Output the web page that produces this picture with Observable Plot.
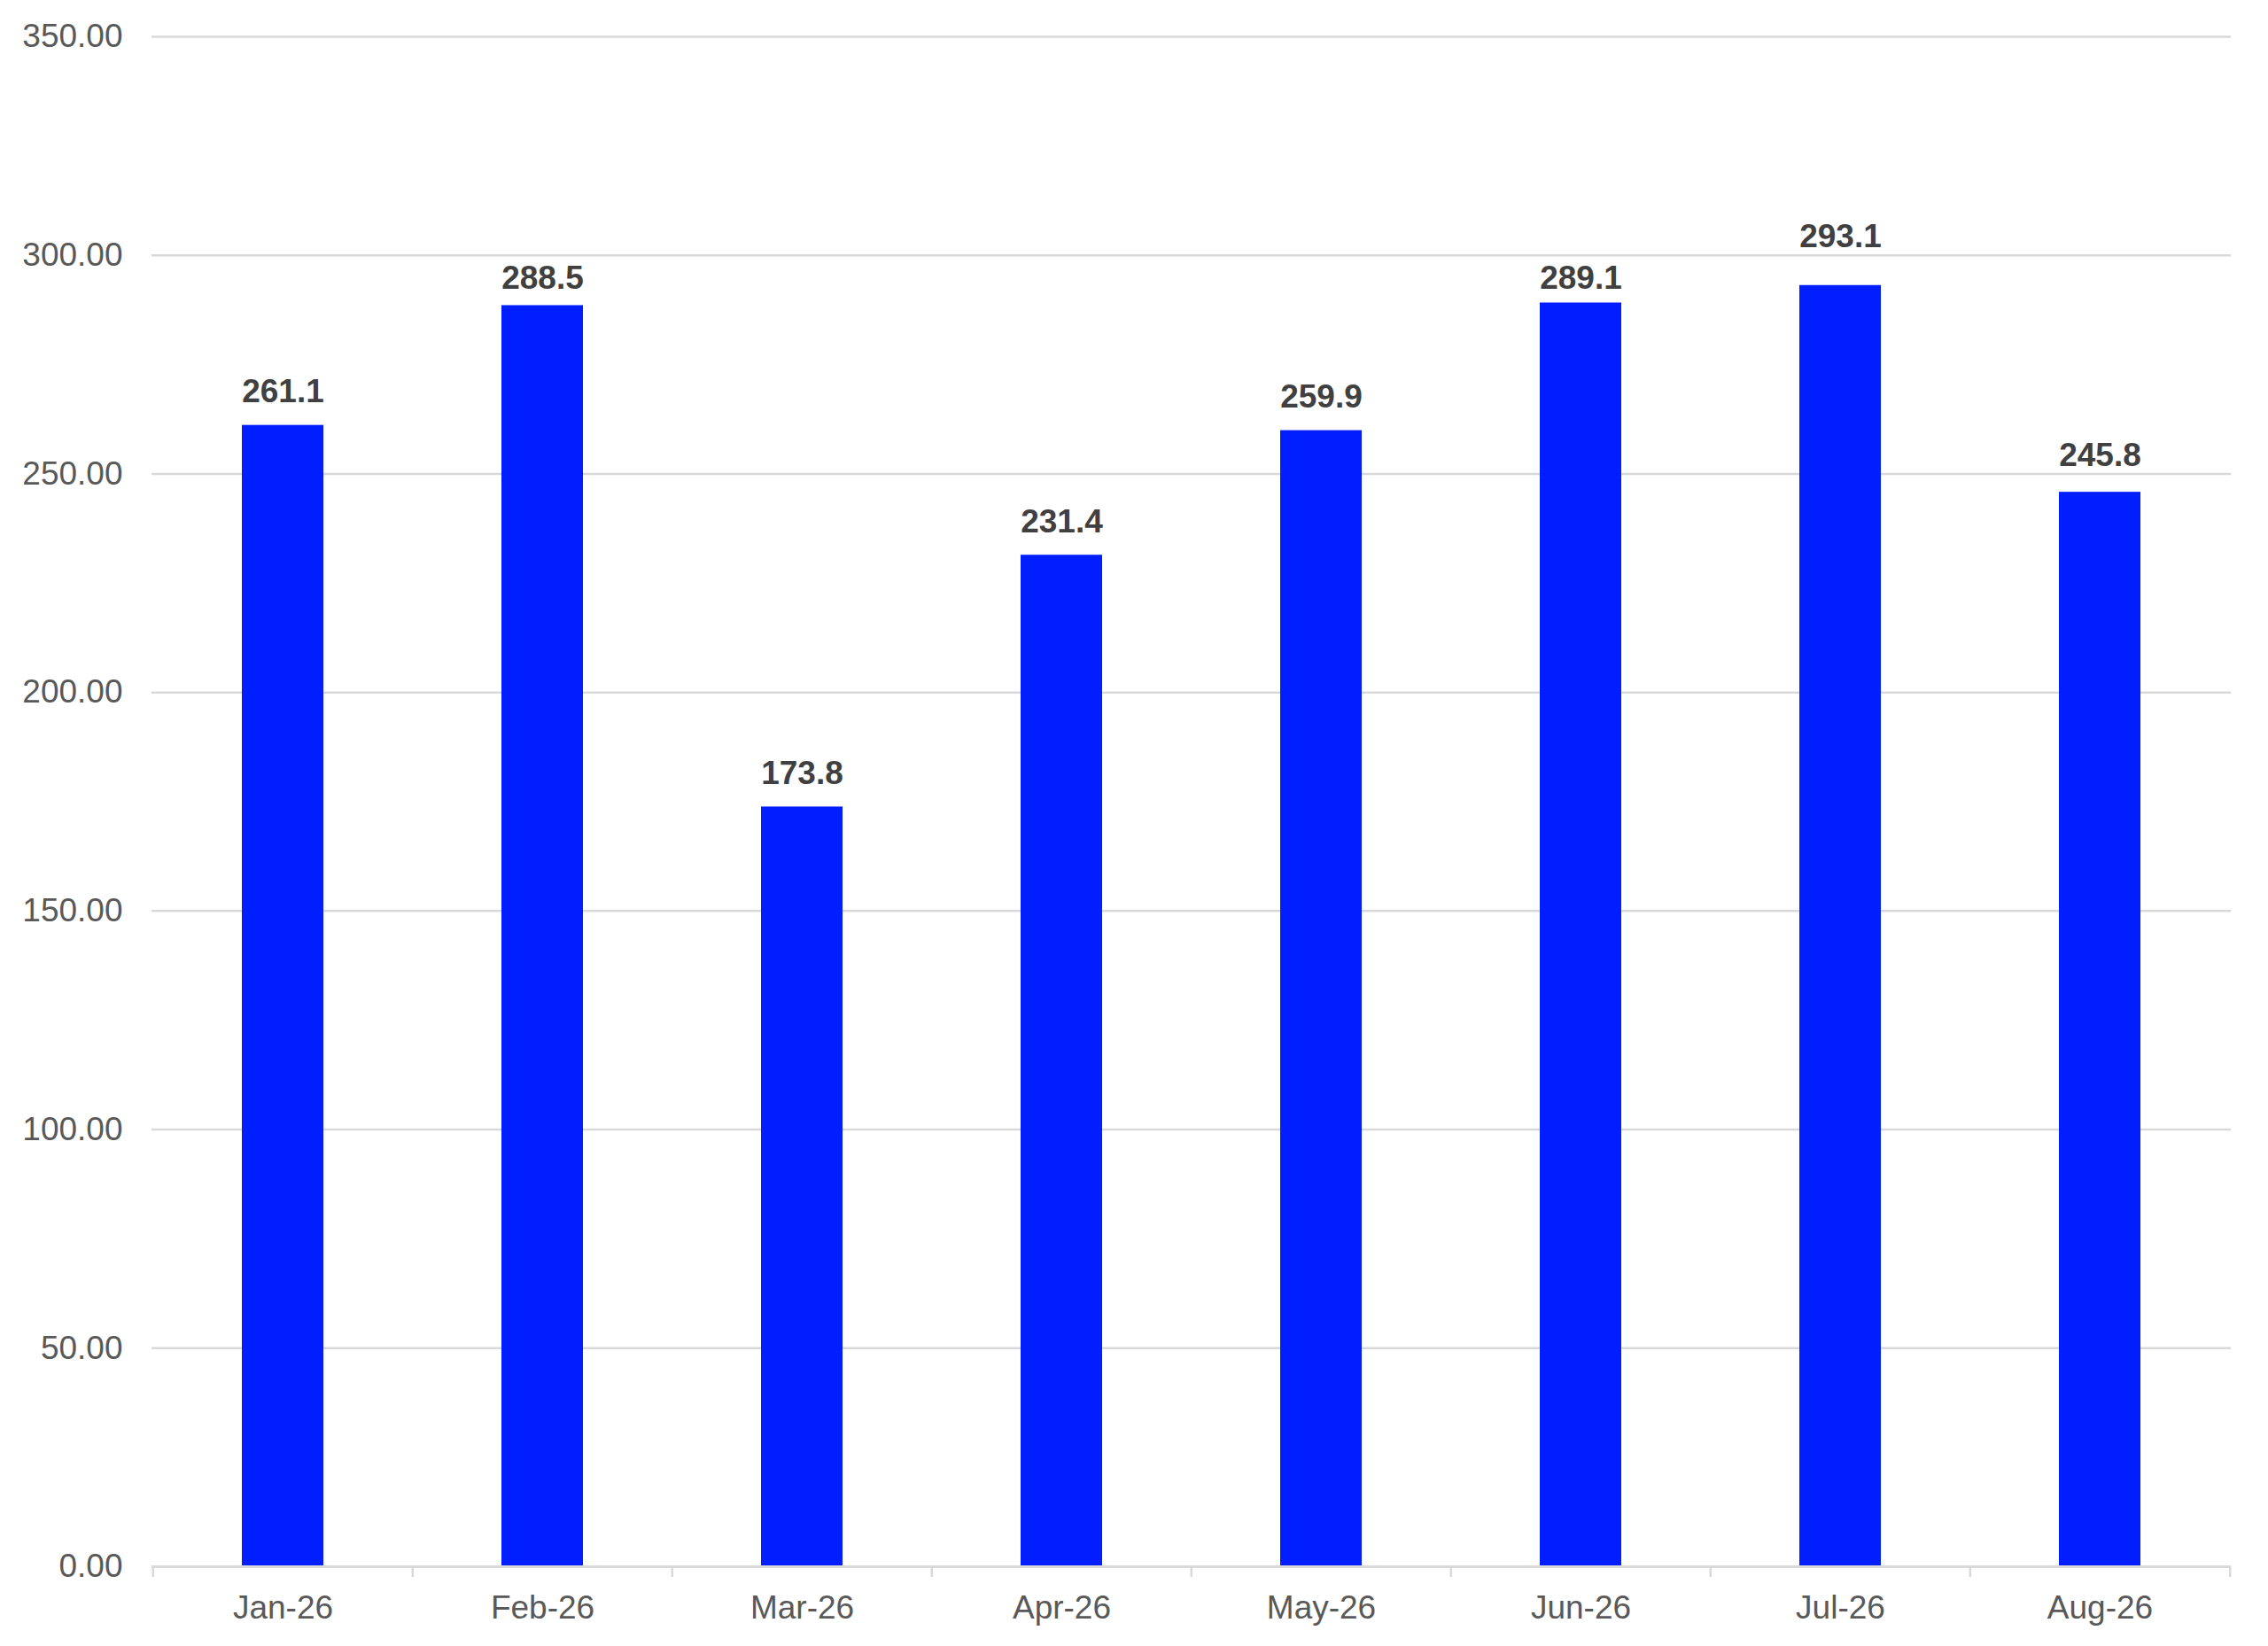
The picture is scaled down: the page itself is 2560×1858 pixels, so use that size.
<!DOCTYPE html>
<html>
<head>
<meta charset="utf-8">
<script src="https://cdn.jsdelivr.net/npm/d3@7"></script>
<script src="https://cdn.jsdelivr.net/npm/@observablehq/plot@0.6"></script>
<style>
  html, body { margin: 0; padding: 0; background: #ffffff; overflow: hidden; }
  #chart svg { display: block; }
</style>
</head>
<body>
<div id="chart"></div>
<script>
const months = ["Jan-26", "Feb-26", "Mar-26", "Apr-26", "May-26", "Jun-26", "Jul-26", "Aug-26"];
const values = [261.1, 288.5, 173.8, 231.4, 259.9, 289.1, 293.1, 245.8];
const yTicks = [0, 50, 100, 150, 200, 250, 300, 350];

const W = 2560, H = 1858;
const mL = 171, mR = 42, mT = 41, mB = 90;
const step = (W - mL - mR) / months.length;
const pxPerUnit = (H - mT - mB) / 350;

// Label placement: baseline sits a fixed gap above the bar; if the label would
// collide with a gridline, it is nudged to the nearer side of that gridline.
const GAP = 26, CAP = 26, CLEAR_ABOVE = 9, CLEAR_BELOW = 12;
function labelBaseline(v) {
  let base = v + GAP / pxPerUnit;                 // baseline in data units
  for (const g of yTicks) {
    const top = base + CAP / pxPerUnit;
    if (g <= top + CLEAR_BELOW / pxPerUnit && g >= base - CLEAR_ABOVE / pxPerUnit) {
      const up = g + CLEAR_ABOVE / pxPerUnit;     // baseline just above gridline
      const down = g - (CAP + CLEAR_BELOW) / pxPerUnit; // cap top just below gridline
      base = (Math.abs(up - base) < Math.abs(down - base) || down < v) ? up : down;
    }
  }
  return base;
}

const data = months.map((m, i) => ({month: m, value: values[i], labelY: labelBaseline(values[i])}));

const chart = Plot.plot({
  width: W,
  height: H,
  marginLeft: mL,
  marginRight: mR,
  marginTop: mT,
  marginBottom: mB,
  style: {fontFamily: "'Liberation Sans', Arial, sans-serif", background: "#ffffff"},
  x: {domain: months, paddingInner: 0.686, paddingOuter: 0.343, align: 0.5},
  y: {domain: [0, 350]},
  marks: [
    Plot.gridY(yTicks, {stroke: "#d9d9d9", strokeOpacity: 1, strokeWidth: 2.5}),
    Plot.barY(data, {x: "month", y: "value", fill: "#001eff"}),
    Plot.ruleY([0], {stroke: "#d9d9d9", strokeWidth: 3}),
    Plot.axisY(yTicks, {tickSize: 0, tickPadding: 33, tickFormat: d3.format(".2f"), fontSize: 37, fill: "#595959", label: null}),
    Plot.axisX({tickSize: 0, tickPadding: 32, fontSize: 37, fill: "#595959", label: null}),
    Plot.axisX({tickSize: 12, text: null, stroke: "#d9d9d9", strokeWidth: 2.5, dx: -step / 2, label: null}),
    Plot.axisX([months[months.length - 1]], {tickSize: 12, text: null, stroke: "#d9d9d9", strokeWidth: 2.5, dx: step / 2, label: null}),
    Plot.text(data, {x: "month", y: "labelY", text: d => d3.format(".1f")(d.value), lineAnchor: "bottom", fontSize: 37, fontWeight: "bold", fill: "#404040"})
  ]
});

document.getElementById("chart").appendChild(chart);
</script>
</body>
</html>
